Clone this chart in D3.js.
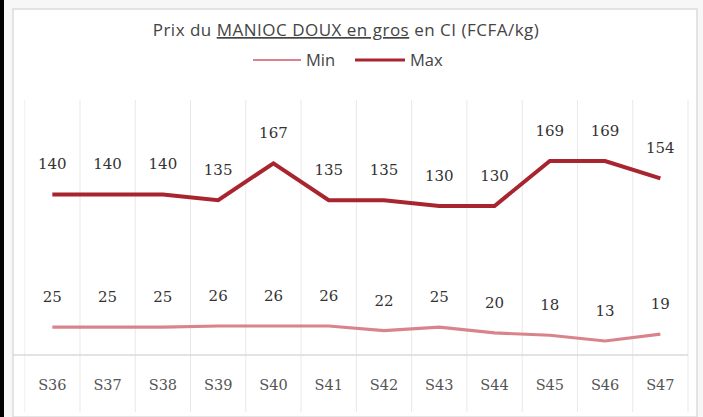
<!DOCTYPE html>
<html><head><meta charset="utf-8">
<script src="https://cdn.jsdelivr.net/npm/d3@7/dist/d3.min.js"></script>
<style>
html,body{margin:0;padding:0;background:#fff;}
svg{display:block;}
</style></head>
<body>
<svg id="chart" width="703" height="417"></svg>
<script>
const categories = ["S36","S37","S38","S39","S40","S41","S42","S43","S44","S45","S46","S47"];
const minValues = [25,25,25,26,26,26,22,25,20,18,13,19];
const maxValues = [140,140,140,135,167,135,135,130,130,169,169,154];
const seriesNames = ["Min","Max"];
const seriesColors = ["#d9848c","#a82530"];

const svg = d3.select("#chart");
const W = 703, H = 417;

// frame
svg.append("rect").attr("x",0).attr("y",0).attr("width",W).attr("height",H).attr("fill","#f7f7f7");
svg.append("rect").attr("x",0).attr("y",0).attr("width",4).attr("height",H).attr("fill","#000");
svg.append("rect").attr("x",13).attr("y",9).attr("width",684).attr("height",H-9).attr("fill","#fff")
  .attr("stroke","#dcdcdc").attr("stroke-width",1.5);

const plot = {left:24.7, right:688, top:100, bottom:355};
const x = d3.scaleBand().domain(categories).range([plot.left, plot.right]).padding(0);
const y = d3.scaleLinear().domain([0,200]).range([356, 125.2]);

// vertical gridlines
const gx = x.domain().map(d=>x(d)).concat([plot.right]);
svg.append("g").selectAll("line").data(gx).join("line")
  .attr("x1",d=>d).attr("x2",d=>d).attr("y1",plot.top).attr("y2",412)
  .attr("stroke",(d,i)=>i===0?"#f0f0f0":"#e8e8e8").attr("stroke-width",1);

// x axis
const xAxis = d3.axisBottom(x).tickSize(0).tickPadding(0);
const ax = svg.append("g").attr("transform",`translate(0,${plot.bottom})`).call(xAxis);
ax.select(".domain").attr("stroke","#dadada").attr("stroke-width",1.5).attr("d",`M${plot.left-12},0H${plot.right}`);
ax.selectAll("text").attr("font-family","'DejaVu Serif', serif").attr("font-size",14.5)
  .attr("fill","#555").attr("dy",0).attr("y",35);

const line = d3.line().x((d,i)=>x(categories[i])+x.bandwidth()/2).y(d=>y(d));

const series = [minValues, maxValues];
series.forEach((vals,si)=>{
  svg.append("path").datum(vals).attr("d",line).attr("fill","none")
    .attr("stroke",seriesColors[si]).attr("stroke-width",si===1?4:3.2)
    .attr("stroke-linejoin","miter");
  svg.append("g").selectAll("text").data(vals).join("text")
    .attr("x",(d,i)=>x(categories[i])+x.bandwidth()/2)
    .attr("y",d=>y(d)-25)
    .attr("text-anchor","middle")
    .attr("font-family","'DejaVu Serif', serif").attr("font-size",15)
    .attr("fill","#333")
    .text(d=>d);
});

// title
const title = svg.append("text").attr("x",346).attr("y",36).attr("text-anchor","middle")
  .attr("font-family","'Open Sans',sans-serif").attr("font-size",17).attr("letter-spacing",0.5).attr("fill","#444");
title.append("tspan").text("Prix du ");
title.append("tspan").attr("text-decoration","underline").text("MANIOC DOUX  en gros");
title.append("tspan").text(" en CI (FCFA/kg)");

// legend
const legendItems = [{x0:253,x1:301,tx:306},{x0:355,x1:405,tx:410}];
legendItems.forEach((it,i)=>{
  svg.append("line").attr("x1",it.x0).attr("x2",it.x1).attr("y1",60).attr("y2",60)
    .attr("stroke",seriesColors[i]).attr("stroke-width",i===1?3:2);
  svg.append("text").attr("x",it.tx).attr("y",66).attr("font-family","'Open Sans',sans-serif")
    .attr("font-size",16.5).attr("fill","#444").text(seriesNames[i]);
});
</script>
</body></html>
